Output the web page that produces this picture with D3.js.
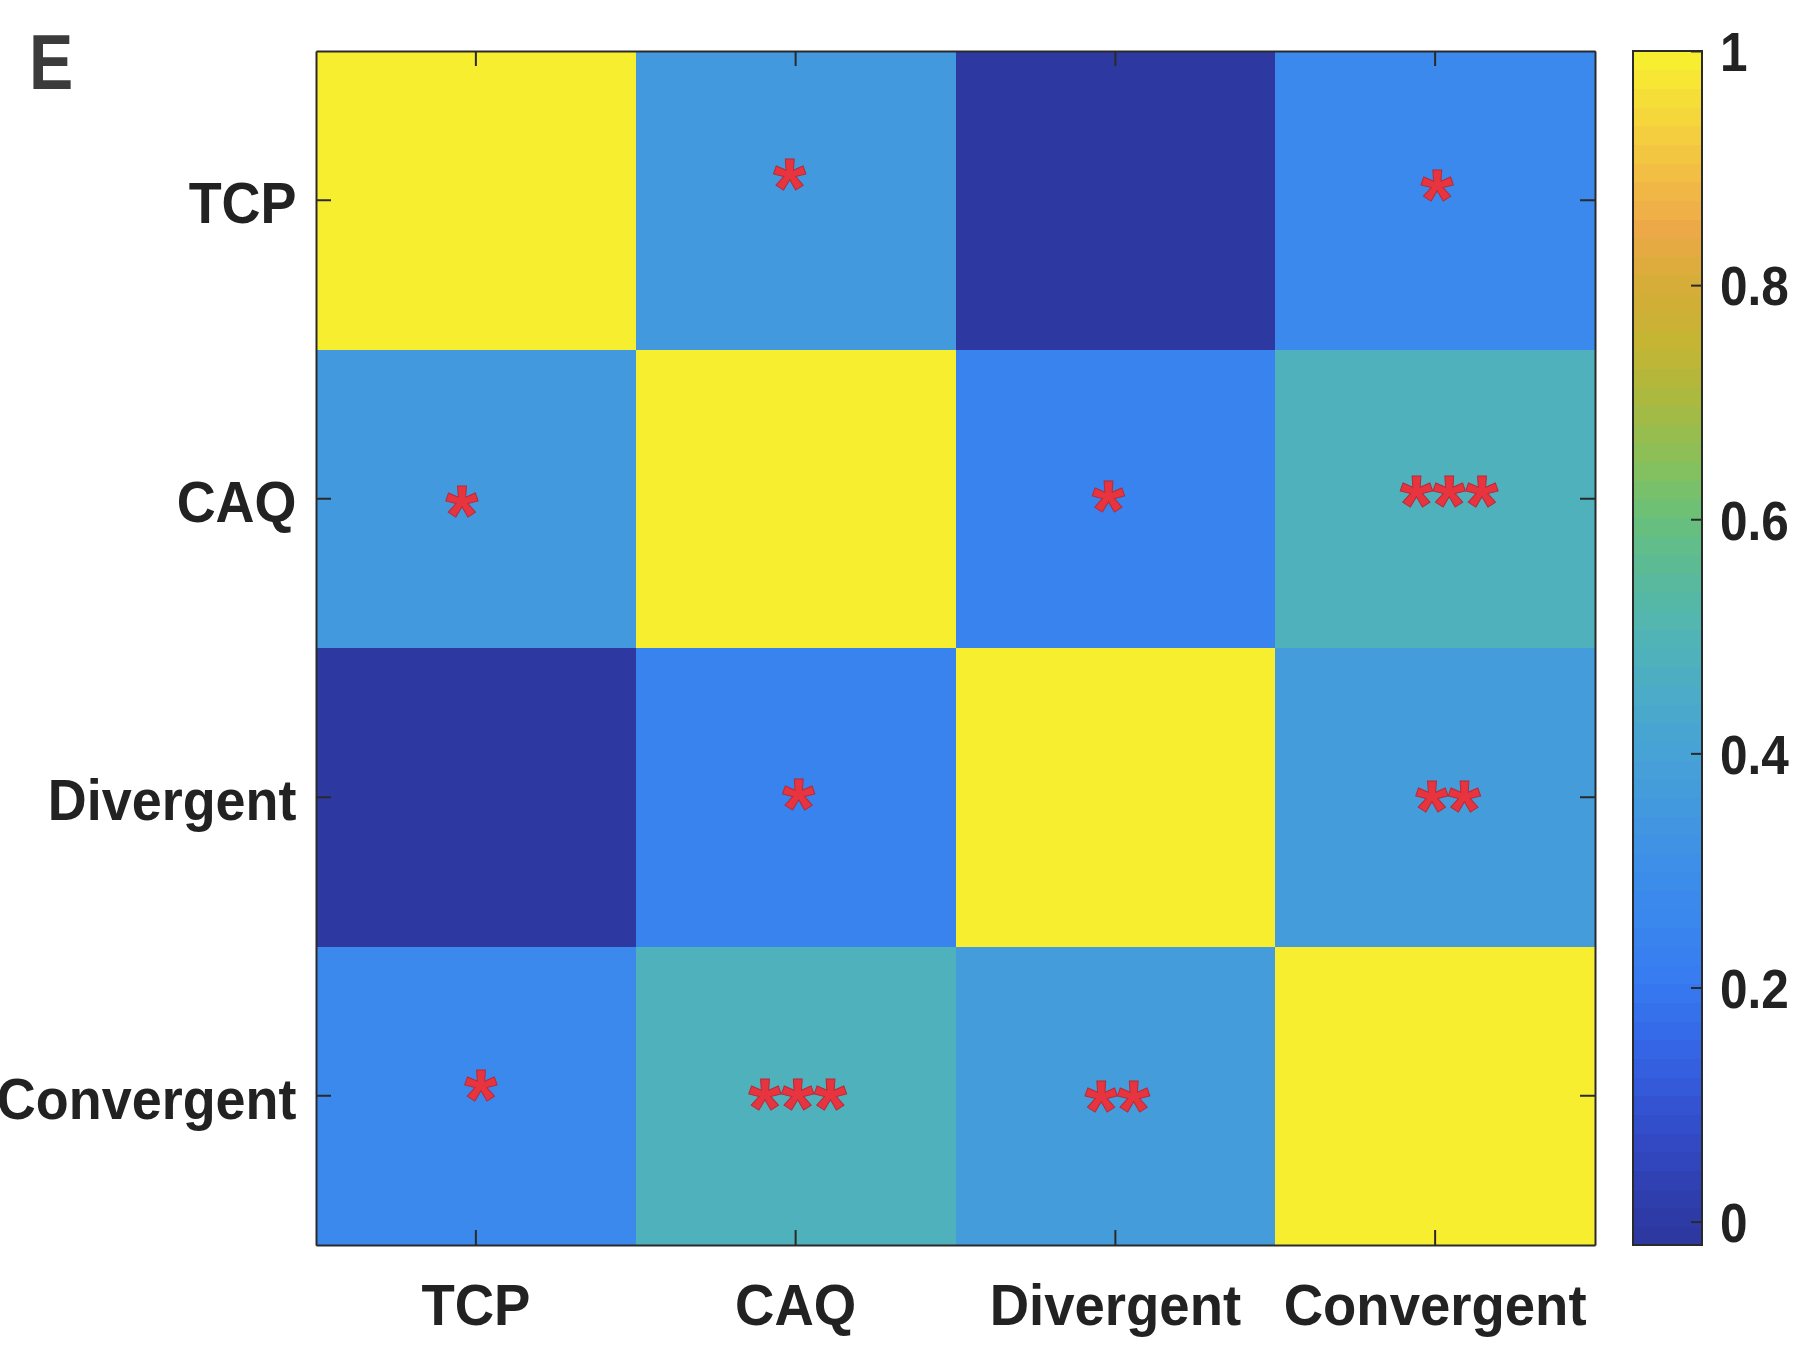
<!DOCTYPE html>
<html>
<head>
<meta charset="utf-8">
<title>Correlation matrix</title>
<script src="https://cdn.jsdelivr.net/npm/d3@7"></script>
<style>
  html, body { margin: 0; padding: 0; background: #ffffff; }
  svg { display: block; }
</style>
</head>
<body>
<svg id="chart" width="1806" height="1345"></svg>
<script>
// ---------------- data ----------------
const categories = ["TCP", "CAQ", "Divergent", "Convergent"];

// correlation coefficients, one row per measure (same order as categories)
const rTCP        = [1.00, 0.35, -0.02, 0.27];
const rCAQ        = [0.35, 1.00, 0.24, 0.48];
const rDivergent  = [-0.02, 0.24, 1.00, 0.37];
const rConvergent = [0.27, 0.48, 0.37, 1.00];

// significance stars for each pair
const sTCP        = ["", "*", "", "*"];
const sCAQ        = ["*", "", "*", "***"];
const sDivergent  = ["", "*", "", "**"];
const sConvergent = ["*", "***", "**", ""];

const colorbarTicks = [0, 0.2, 0.4, 0.6, 0.8, 1];
const panelLabel = "E";

// ---------------- layout & style ----------------
const plot = { left: 316, right: 1595, top: 51, bottom: 1245 };
const cbar = { left: 1633, right: 1702 };
const font = "'Liberation Sans', Arial, Helvetica, sans-serif";
const ink = "#222222";
const frameColor = "#2a2a2a";
const tickLen = 15;
const starSize = 84;

// hand placement of the star annotations inside each cell (px)
const starNudge = [
  [[0, 0], [-6, -24], [0, 0], [2, -13]],
  [[-14, 4], [0, 0], [-7, -1], [14, -6]],
  [[0, 0], [3, -1], [0, 0], [13, 1]],
  [[5, -9], [2, 0], [2, 2], [0, 0]]
];

// parula-like colour ramp (value -> colour)
const rampStops = [
  [-0.022, "#2c369c"], [0.00, "#2e3aa4"], [0.05, "#3144bb"], [0.10, "#3353d3"],
  [0.15, "#3566e6"], [0.20, "#3679f0"], [0.25, "#3985ef"], [0.30, "#3d8ee8"],
  [0.35, "#4398df"], [0.40, "#47a2d6"], [0.45, "#4babc8"], [0.50, "#50b4b6"],
  [0.55, "#59ba9c"], [0.60, "#68c07b"], [0.65, "#88c05a"], [0.70, "#a9ba40"],
  [0.75, "#c5b433"], [0.80, "#d6ad38"], [0.85, "#eea948"], [0.90, "#f2c044"],
  [0.95, "#f5d93a"], [1.00, "#f8f22e"]
];
const nLevels = 64;

// ---------------- build ----------------
const matrix = [rTCP, rCAQ, rDivergent, rConvergent];
const stars = [sTCP, sCAQ, sDivergent, sConvergent];
const cells = categories.flatMap((row, i) =>
  categories.map((col, j) => ({ row, col, i, j, v: matrix[i][j], sig: stars[i][j] })));

const cmin = d3.min(cells, d => d.v);
const cmax = d3.max(cells, d => d.v);

const ramp = d3.scaleLinear()
  .domain(rampStops.map(s => s[0]))
  .range(rampStops.map(s => s[1]))
  .interpolate(d3.interpolateRgb)
  .clamp(true);

// discrete colormap like an indexed image
function levelOf(v) {
  return Math.max(0, Math.min(nLevels - 1, Math.floor((v - cmin) / (cmax - cmin) * nLevels)));
}
function levelColor(k) {
  return ramp(cmin + (k + 0.5) / nLevels * (cmax - cmin));
}
const colorOf = v => levelColor(levelOf(v));

const svg = d3.select("#chart");

const x = d3.scaleBand().domain(categories).range([plot.left, plot.right]);
const y = d3.scaleBand().domain(categories).range([plot.top, plot.bottom]);
const bw = x.bandwidth(), bh = y.bandwidth();

// heatmap cells
svg.append("g")
  .selectAll("rect")
  .data(cells)
  .join("rect")
  .attr("x", d => x(d.col))
  .attr("y", d => y(d.row))
  .attr("width", bw + 0.6)
  .attr("height", bh + 0.6)
  .attr("fill", d => colorOf(d.v))
  .attr("shape-rendering", "crispEdges");

// axes with inward ticks on all four sides
function styleAxis(g) {
  g.select(".domain").attr("stroke", frameColor).attr("stroke-width", 2);
  g.selectAll(".tick line").attr("stroke", frameColor).attr("stroke-width", 2);
}

const xBottom = svg.append("g")
  .attr("transform", `translate(0,${plot.bottom})`)
  .call(d3.axisBottom(x).tickSize(-tickLen).tickSizeOuter(0))
  .call(styleAxis);
xBottom.selectAll("text")
  .attr("y", 80).attr("dy", 0)
  .attr("transform", "scale(0.94,1)")
  .attr("font-family", font).attr("font-size", 58).attr("font-weight", "bold")
  .attr("fill", ink);

svg.append("g")
  .attr("transform", `translate(0,${plot.top})`)
  .call(d3.axisTop(x).tickSize(-tickLen).tickSizeOuter(0).tickFormat(""))
  .call(styleAxis);

const yLeft = svg.append("g")
  .attr("transform", `translate(${plot.left},0)`)
  .call(d3.axisLeft(y).tickSize(-tickLen).tickSizeOuter(0))
  .call(styleAxis);
yLeft.selectAll("text")
  .attr("x", -19.5 / 0.93).attr("dy", "0.40em")
  .attr("transform", "scale(0.93,1)")
  .attr("font-family", font).attr("font-size", 58).attr("font-weight", "bold")
  .attr("fill", ink);

svg.append("g")
  .attr("transform", `translate(${plot.right},0)`)
  .call(d3.axisRight(y).tickSize(-tickLen).tickSizeOuter(0).tickFormat(""))
  .call(styleAxis);

// significance stars
svg.append("g")
  .selectAll("text")
  .data(cells.filter(d => d.sig))
  .join("text")
  .attr("x", d => x(d.col) + bw / 2 + starNudge[d.i][d.j][0])
  .attr("y", d => y(d.row) + bh / 2 + starNudge[d.i][d.j][1] + 0.49 * starSize)
  .attr("text-anchor", "middle")
  .attr("font-family", font)
  .attr("font-size", starSize)
  .attr("font-weight", "bold")
  .attr("fill", "#e8343f")
  .attr("stroke", "#b42c3a")
  .attr("stroke-width", 1)
  .text(d => d.sig);

// colour bar
const cy = d3.scaleLinear().domain([cmin, cmax]).range([plot.bottom, plot.top]);
const levels = d3.range(nLevels);
svg.append("g")
  .selectAll("rect")
  .data(levels)
  .join("rect")
  .attr("x", cbar.left)
  .attr("width", cbar.right - cbar.left)
  .attr("y", k => cy(cmin + (k + 1) / nLevels * (cmax - cmin)))
  .attr("height", k => cy(cmin + k / nLevels * (cmax - cmin)) - cy(cmin + (k + 1) / nLevels * (cmax - cmin)) + 0.6)
  .attr("fill", k => levelColor(k))
  .attr("shape-rendering", "crispEdges");

svg.append("rect")
  .attr("x", cbar.left).attr("y", plot.top)
  .attr("width", cbar.right - cbar.left)
  .attr("height", plot.bottom - plot.top)
  .attr("fill", "none")
  .attr("stroke", frameColor)
  .attr("stroke-width", 2);

const cAxis = svg.append("g")
  .attr("transform", `translate(${cbar.right},0)`)
  .call(d3.axisRight(cy).tickValues(colorbarTicks).tickFormat(d3.format("~g"))
    .tickSize(-11).tickSizeOuter(0));
cAxis.select(".domain").remove();
cAxis.selectAll(".tick line").attr("stroke", frameColor).attr("stroke-width", 2);
cAxis.selectAll("text")
  .attr("x", 18 / 0.9).attr("dy", "0.36em")
  .attr("transform", "scale(0.9,1)")
  .attr("font-family", font).attr("font-size", 55).attr("font-weight", "bold")
  .attr("fill", ink);

// panel letter
svg.append("text")
  .attr("x", 29 / 0.85).attr("y", 89)
  .attr("transform", "scale(0.85,1)")
  .attr("font-family", font).attr("font-size", 78).attr("font-weight", "bold")
  .attr("fill", "#3b3b3b")
  .text(panelLabel);
</script>
</body>
</html>
